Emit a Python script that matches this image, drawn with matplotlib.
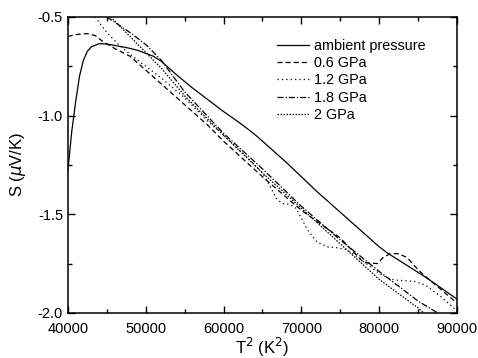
import numpy as np
import matplotlib.pyplot as plt

plt.rcParams['font.family'] = ['Liberation Sans', 'DejaVu Sans']

# ambient pressure
x_amb = [40000, 40500, 41000, 41500, 42000, 42500, 43000, 44000, 45000, 46000,
         47000, 48000, 49000, 50000, 51000, 52000, 53000, 54000, 56000, 58000,
         60000, 62000, 64000, 66000, 68000, 70000, 72000, 74000, 76000, 78000,
         80000, 81000, 82000, 84000, 86000, 88000, 90000]
s_amb = [-1.28, -1.08, -0.93, -0.80, -0.72, -0.675, -0.652, -0.636, -0.638, -0.645,
         -0.652, -0.66, -0.67, -0.685, -0.70, -0.725, -0.76, -0.795, -0.86, -0.92,
         -0.98, -1.035, -1.095, -1.165, -1.235, -1.31, -1.385, -1.455, -1.525, -1.595,
         -1.665, -1.695, -1.72, -1.77, -1.82, -1.875, -1.93]

# 0.6 GPa
x_06 = [40000, 41000, 42500, 43500, 44500, 46000, 48000, 50000, 52000, 55000,
        58000, 60000, 65000, 70000, 75000, 78000, 79800, 80500, 81400, 82500,
        83600, 84500, 85500, 87000, 88500, 90000]
s_06 = [-0.60, -0.59, -0.585, -0.595, -0.625, -0.66, -0.70, -0.77, -0.84, -0.945,
        -1.05, -1.13, -1.31, -1.48, -1.62, -1.745, -1.75, -1.72, -1.70, -1.70,
        -1.72, -1.76, -1.80, -1.85, -1.90, -1.95]

# 1.2 GPa
x_12 = [43500, 45000, 46500, 48000, 50000, 52000, 55000, 58000, 60000, 63000,
        65000, 66000, 66800, 67500, 68500, 69300, 70000, 70800, 72000, 73300,
        74600, 75800, 77000, 78000, 80000, 81500, 82500, 84500, 86000, 88000, 90000]
s_12 = [-0.50, -0.58, -0.64, -0.69, -0.75, -0.81, -0.91, -1.03, -1.10, -1.21,
        -1.29, -1.36, -1.42, -1.445, -1.45, -1.47, -1.52, -1.58, -1.64, -1.665,
        -1.67, -1.68, -1.71, -1.74, -1.80, -1.83, -1.835, -1.84, -1.86, -1.92, -1.99]

# 1.8 GPa
x_18 = [45000, 46500, 48000, 50000, 52000, 55000, 60000, 65000, 70000, 75000,
        80000, 85000, 87500]
s_18 = [-0.50, -0.54, -0.58, -0.64, -0.72, -0.88, -1.09, -1.27, -1.46, -1.63,
        -1.79, -1.94, -2.00]

# 2 GPa
x_20 = [45500, 47000, 48000, 50000, 52000, 55000, 60000, 65000, 70000, 75000,
        80000, 85000, 86000]
s_20 = [-0.50, -0.56, -0.60, -0.68, -0.76, -0.90, -1.10, -1.29, -1.47, -1.65,
        -1.83, -1.975, -2.01]

fig = plt.figure(figsize=(4.78, 3.58), dpi=100)
ax = fig.add_axes([0.142, 0.126, 0.814, 0.827])

ax.plot(x_amb, s_amb, color='black', lw=0.9, ls='-', label='ambient pressure')
ax.plot(x_06, s_06, color='black', lw=0.9, ls=(0, (4, 2.5)), label='0.6 GPa')
ax.plot(x_12, s_12, color='black', lw=0.9, ls=(0, (1, 2.5)), label='1.2 GPa')
ax.plot(x_18, s_18, color='black', lw=0.9, ls=(0, (5, 1.5, 1, 1.5)), label='1.8 GPa')
ax.plot(x_20, s_20, color='black', lw=0.9, ls=(0, (1.2, 1.2)), label='2 GPa')

ax.set_xlim(40000, 90000)
ax.set_ylim(-2.0, -0.5)
ax.set_xticks(np.arange(40000, 90001, 10000))
ax.set_xticks(np.arange(45000, 90000, 10000), minor=True)
ax.set_yticks([-2.0, -1.5, -1.0, -0.5])
ax.set_yticks([-1.75, -1.25, -0.75], minor=True)
ax.set_yticklabels(['-2.0', '-1.5', '-1.0', '-0.5'])
ax.tick_params(which='both', direction='in', top=True, right=True,
               labelsize=10.5, width=1.0)
ax.tick_params(which='major', length=5)
ax.tick_params(which='minor', length=3)
ax.tick_params(axis='x', pad=6.5)
for sp in ax.spines.values():
    sp.set_linewidth(1.1)

ax.set_xlabel('T$^2$ (K$^2$)', fontsize=12, labelpad=0)
ax.set_ylabel('S ($\\mu$V/K)', fontsize=12, labelpad=7)

ax.legend(loc='upper left', bbox_to_anchor=(0.537, 0.925), frameon=False,
          fontsize=10.4, handlelength=2.2, handletextpad=0.35, labelspacing=0.22,
          borderpad=0, borderaxespad=0)

fig.savefig('out.png', dpi=100)
